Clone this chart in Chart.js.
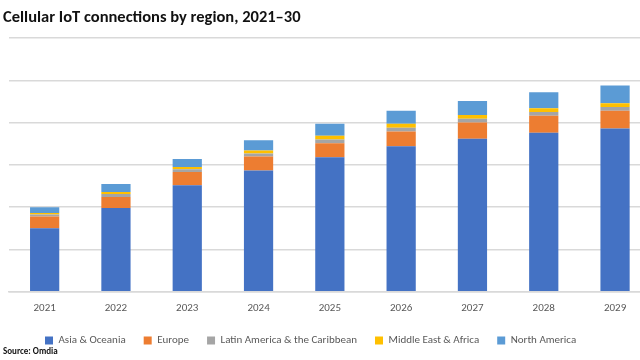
<!DOCTYPE html>
<html>
<head>
<meta charset="utf-8">
<script src="https://cdn.jsdelivr.net/npm/chart.js@4"></script>
<style>
  html, body { margin: 0; padding: 0; width: 640px; height: 360px; overflow: hidden; background: #fff; }
  #wrap { position: absolute; left: 0; top: 0; width: 732px; height: 364px; }
  #title { position: absolute; left: 3px; top: 6px; font: bold 16.5px Carlito, 'Liberation Sans Narrow', 'Liberation Sans', sans-serif; color: #111; }
  #source { position: absolute; left: 3px; top: 345px; font: bold 9px Carlito, 'Liberation Sans Narrow', 'Liberation Sans', sans-serif; color: #111; }
</style>
</head>
<body>
<div id="wrap"><canvas id="iot-chart"></canvas></div>
<div id="title">Cellular IoT connections by region, 2021–30</div>
<div id="source">Source: Omdia</div>
<script>
const years = ['2021', '2022', '2023', '2024', '2025', '2026', '2027', '2028', '2029', '2030'];

// connections, billions
const asiaOceania = [1.50, 1.98, 2.52, 2.87, 3.18, 3.44, 3.62, 3.76, 3.86, 3.95];
const europe = [0.28, 0.26, 0.31, 0.33, 0.33, 0.35, 0.38, 0.40, 0.42, 0.44];
const latinAmerica = [0.05, 0.07, 0.07, 0.07, 0.09, 0.09, 0.09, 0.09, 0.09, 0.10];
const middleEastAfrica = [0.03, 0.05, 0.05, 0.07, 0.09, 0.09, 0.09, 0.09, 0.09, 0.10];
const northAmerica = [0.14, 0.19, 0.19, 0.24, 0.28, 0.31, 0.33, 0.38, 0.42, 0.45];

const fontFamily = "Carlito, 'Liberation Sans Narrow', 'Liberation Sans', sans-serif";

// the original legend sits a bit left of centre and close to the axis labels
const legendNudge = {
  id: 'legendNudge',
  afterLayout(chart) {
    const lg = chart.legend;
    lg.left += 18;
    lg.right += 18;
    lg.top -= 8;
    lg.bottom -= 8;
  }
};

const ctx = document.getElementById('iot-chart').getContext('2d');

new Chart(ctx, {
  type: 'bar',
  data: {
    labels: years,
    datasets: [
      { label: 'Asia & Oceania', data: asiaOceania, backgroundColor: '#4472c4' },
      { label: 'Europe', data: europe, backgroundColor: '#ed7d31' },
      { label: 'Latin America & the Caribbean', data: latinAmerica, backgroundColor: '#a5a5a5' },
      { label: 'Middle East & Africa', data: middleEastAfrica, backgroundColor: '#ffc000' },
      { label: 'North America', data: northAmerica, backgroundColor: '#5b9bd5' }
    ]
  },
  options: {
    responsive: true,
    maintainAspectRatio: false,
    animation: false,
    layout: { padding: { left: 9, right: 10, top: 38, bottom: 0 } },
    datasets: { bar: { categoryPercentage: 0.82, barPercentage: 0.5 } },
    scales: {
      x: {
        stacked: true,
        grid: { display: false, drawTicks: false },
        border: { color: '#d9d9d9', width: 1.5 },
        ticks: { color: '#595959', padding: 10, font: { family: fontFamily, size: 11 } }
      },
      y: {
        stacked: true,
        min: 0,
        max: 6,
        ticks: { display: false, stepSize: 1 },
        border: { display: false },
        grid: { color: '#d9d9d9', lineWidth: 1.5, drawTicks: false }
      }
    },
    plugins: {
      legend: {
        position: 'bottom',
        align: 'start',
        labels: {
          boxWidth: 8,
          boxHeight: 8,
          padding: 18,
          color: '#595959',
          font: { family: fontFamily, size: 11 }
        }
      },
      tooltip: { enabled: false }
    }
  },
  plugins: [legendNudge]
});
</script>
</body>
</html>
